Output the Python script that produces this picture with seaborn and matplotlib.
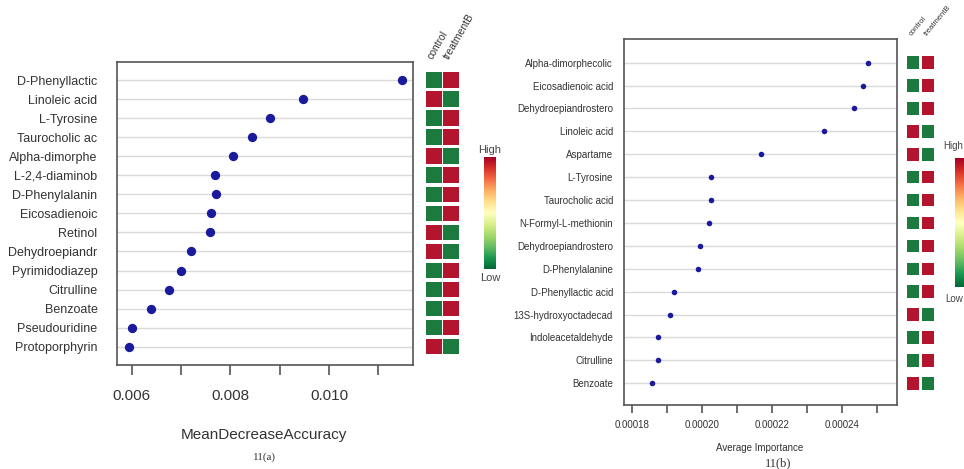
import matplotlib
matplotlib.use("Agg")
import matplotlib as mpl
import matplotlib.pyplot as plt
import numpy as np
import pandas as pd
import seaborn as sns

# ---- panel 11(a): random forest MeanDecreaseAccuracy ----
names_a = ["D-Phenyllactic", "Linoleic acid", "L-Tyrosine", "Taurocholic ac",
           "Alpha-dimorphe", "L-2,4-diaminob", "D-Phenylalanin", "Eicosadienoic",
           "Retinol", "Dehydroepiandr", "Pyrimidodiazep", "Citrulline",
           "Benzoate", "Pseudouridine", "Protoporphyrin"]
mda_a = [0.01148, 0.00947, 0.00881, 0.00843, 0.00805, 0.00769, 0.00770, 0.00761,
         0.00759, 0.00720, 0.00699, 0.00676, 0.00638, 0.00600, 0.00595]
control_a = [0, 1, 0, 0, 1, 0, 0, 0, 1, 1, 0, 0, 0, 0, 1]
treatB_a = [1, 0, 1, 1, 0, 1, 1, 1, 0, 0, 1, 1, 1, 1, 0]
xticks_a = [0.006, 0.007, 0.008, 0.009, 0.010, 0.011]
xticklabels_a = ["0.006", "", "0.008", "", "0.010", ""]

# ---- panel 11(b): Average Importance ----
names_b = ["Alpha-dimorphecolic", "Eicosadienoic acid", "Dehydroepiandrostero",
           "Linoleic acid", "Aspartame", "L-Tyrosine", "Taurocholic acid",
           "N-Formyl-L-methionin", "Dehydroepiandrostero", "D-Phenylalanine",
           "D-Phenyllactic acid", "13S-hydroxyoctadecad", "Indoleacetaldehyde",
           "Citrulline", "Benzoate"]
imp_b = [0.0002474, 0.0002460, 0.0002436, 0.0002348, 0.0002168, 0.0002027,
         0.0002026, 0.0002021, 0.0001995, 0.0001988, 0.0001922, 0.0001910,
         0.0001876, 0.0001875, 0.0001859]
control_b = [0, 0, 0, 1, 1, 0, 0, 0, 0, 0, 0, 1, 0, 0, 1]
treatB_b = [1, 1, 1, 0, 0, 1, 1, 1, 1, 1, 1, 0, 1, 1, 0]
xticks_b = [0.00018, 0.00019, 0.00020, 0.00021, 0.00022, 0.00023, 0.00024, 0.00025]
xticklabels_b = ["0.00018", "", "0.00020", "", "0.00022", "", "0.00024", ""]

groups = ["control", "treatmentB"]

W, H = 964, 469
sns.set_style("white")
plt.rcParams["font.family"] = ["Liberation Sans", "DejaVu Sans"]

DOT = "#1a1a9c"
GREEN = "#1d7a3e"
RED = "#b3142e"
fig = plt.figure(figsize=(W / 100, H / 100), dpi=100)


def px(x0, y0, x1, y1):
    return fig.add_axes([x0 / W, 1 - y1 / H, (x1 - x0) / W, (y1 - y0) / H])


def dot_panel(box, names, vals, ylim, xlim, ticks, ticklabels, s, fs_y, fs_x,
              ypad, tlen, xpad):
    ax = px(*box)
    df = pd.DataFrame({"row": np.arange(len(names)), "val": vals})
    sns.scatterplot(data=df, x="val", y="row", color=DOT, s=s, linewidth=0,
                    ax=ax, zorder=3)
    ax.set_xlim(xlim)
    ax.set_ylim(ylim)
    ax.set_yticks(np.arange(len(names)))
    ax.set_yticklabels(names, fontsize=fs_y, color="#333333")
    ax.set_xticks(ticks)
    ax.set_xticklabels(ticklabels, fontsize=fs_x, color="#333333")
    ax.tick_params(axis="y", length=0, pad=ypad)
    ax.tick_params(axis="x", length=tlen, width=1.2, color="#555555",
                   direction="out", pad=xpad, bottom=True)
    ax.grid(axis="y", color="#dadada", lw=1.0)
    ax.set_axisbelow(True)
    ax.set_xlabel("")
    ax.set_ylabel("")
    for sp in ax.spines.values():
        sp.set_color("#555555")
        sp.set_linewidth(1.2)
    return ax


def heat_panel(box, names, ctrl, trt, ylim, s, fs, rot):
    ax = px(*box)
    df = pd.DataFrame({
        "row": list(np.arange(len(names))) * 2,
        "group": [groups[0]] * len(names) + [groups[1]] * len(names),
        "level": list(ctrl) + list(trt),
    })
    sns.scatterplot(data=df, x="group", y="row", hue="level",
                    palette={0: GREEN, 1: RED}, marker="s", s=s, linewidth=0,
                    legend=False, ax=ax)
    ax.set_xlim(-0.5, 1.5)
    ax.set_ylim(ylim)
    ax.set_yticks([])
    ax.xaxis.set_ticks_position("top")
    ax.set_xticks([0, 1])
    ax.set_xticklabels(groups, rotation=rot, ha="left", va="bottom",
                       rotation_mode="anchor", fontsize=fs, color="#333333")
    ax.tick_params(axis="x", length=0, pad=1)
    ax.set_xlabel("")
    ax.set_ylabel("")
    for sp in ax.spines.values():
        sp.set_visible(False)
    ax.patch.set_alpha(0)
    return ax


def color_key(box, fs, xtext, ha, dy_hi, dy_lo):
    cax = px(*box)
    cb = fig.colorbar(mpl.cm.ScalarMappable(norm=mpl.colors.Normalize(0, 1),
                                            cmap=sns.color_palette("RdYlGn_r", as_cmap=True)),
                      cax=cax)
    cb.set_ticks([])
    cb.outline.set_visible(False)
    fig.text(xtext / W, 1 - (box[1] - dy_hi) / H, "High", ha=ha, va="center",
             fontsize=fs, color="#444444")
    fig.text(xtext / W, 1 - (box[3] + dy_lo) / H, "Low", ha=ha, va="center",
             fontsize=fs, color="#444444")


# left panel
ylim_a = (14.96, -0.945)
dot_panel((117, 62, 413, 365), names_a, mda_a, ylim_a, (0.0057, 0.0117),
          xticks_a, xticklabels_a, 45, 9, 11, 14, 7, 10)
heat_panel((425.5, 62, 459.5, 365), names_a, control_a, treatB_a, ylim_a,
           125, 7.5, 60)
color_key((484, 157, 496, 269), 8, 490, "center", 7, 9)
fig.text(264 / W, 1 - 435 / H, "MeanDecreaseAccuracy", ha="center", va="center",
         fontsize=11, color="#333333")
fig.text(264 / W, 1 - 457 / H, "11(a)", ha="center", va="center",
         fontsize=8, color="#333333", family="Liberation Serif")

# right panel
ylim_b = (14.948, -1.035)
dot_panel((624, 39, 897, 405), names_b, imp_b, ylim_b, (0.0001778, 0.0002558),
          xticks_b, xticklabels_b, 16, 7, 7, 8, 6, 5)
heat_panel((905.5, 39, 935.5, 405), names_b, control_b, treatB_b, ylim_b,
           80, 5.5, 50)
color_key((955, 158, 967, 287), 7, 963, "right", 12, 12)
fig.text(760 / W, 1 - 448 / H, "Average Importance", ha="center", va="center",
         fontsize=7, color="#333333")
fig.text(778 / W, 1 - 463 / H, "11(b)", ha="center", va="center",
         fontsize=9, color="#333333", family="Liberation Serif")

fig.savefig("out.png", dpi=100)
